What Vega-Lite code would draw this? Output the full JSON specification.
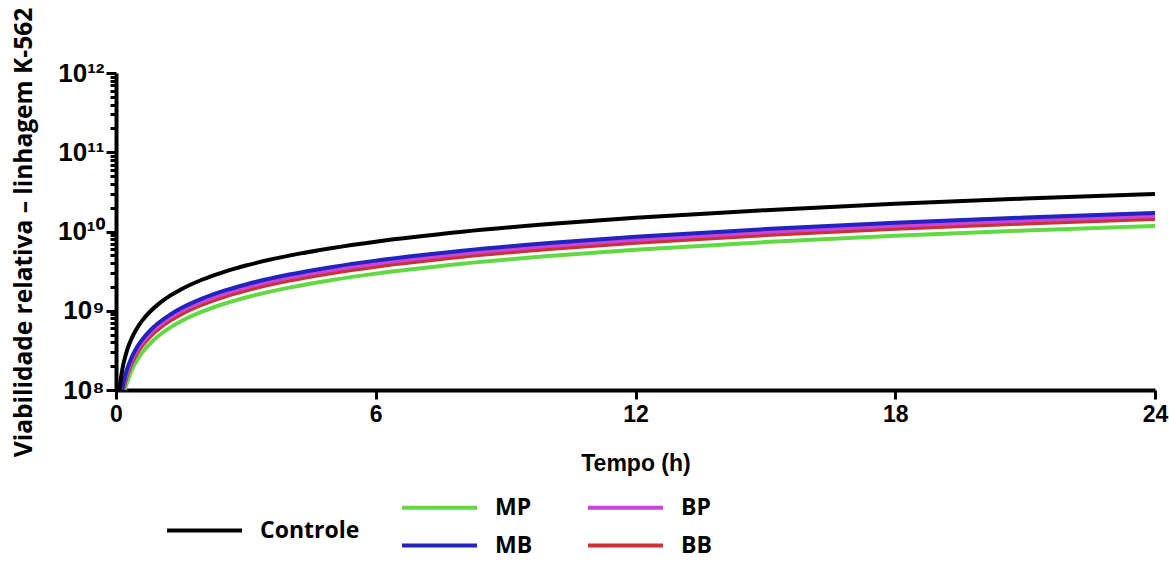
{
  "$schema": "https://vega.github.io/schema/vega-lite/v6.json",
  "width": 1039,
  "height": 317,
  "autosize": {"type": "none"},
  "padding": {"left": 116, "top": 73, "right": 14, "bottom": 171},
  "background": "white",
  "config": {
    "view": {"stroke": null},
    "axis": {
      "grid": false,
      "domainColor": "#000000",
      "domainWidth": 4,
      "tickColor": "#000000",
      "tickWidth": 3,
      "labelColor": "#000000",
      "titleColor": "#000000"
    },
    "legend": {
      "padding": 0,
      "symbolType": "M-5,0H5",
      "symbolSize": 225,
      "symbolStrokeWidth": 4,
      "labelFont": "Open Sans",
      "labelFontSize": 23,
      "labelFontWeight": "bold",
      "labelColor": "#000000",
      "labelOffset": 44,
      "title": null
    }
  },
  "datasets": {
    "curvas": [
      {"t": 0.204, "s": "MP", "v": 1.0e8}, {"t": 0.25, "s": "MP", "v": 1.225e8}, {"t": 0.3, "s": "MP", "v": 1.47e8}, {"t": 0.4, "s": "MP", "v": 1.96e8}, {"t": 0.5, "s": "MP", "v": 2.45e8}, {"t": 0.6, "s": "MP", "v": 2.94e8}, {"t": 0.8, "s": "MP", "v": 3.92e8}, {"t": 1, "s": "MP", "v": 4.9e8}, {"t": 1.25, "s": "MP", "v": 6.125e8}, {"t": 1.5, "s": "MP", "v": 7.35e8}, {"t": 2, "s": "MP", "v": 9.8e8}, {"t": 2.5, "s": "MP", "v": 1.225e9}, {"t": 3, "s": "MP", "v": 1.47e9}, {"t": 4, "s": "MP", "v": 1.96e9}, {"t": 5, "s": "MP", "v": 2.45e9}, {"t": 6, "s": "MP", "v": 2.94e9}, {"t": 8, "s": "MP", "v": 3.92e9}, {"t": 10, "s": "MP", "v": 4.9e9}, {"t": 12, "s": "MP", "v": 5.88e9}, {"t": 15, "s": "MP", "v": 7.35e9}, {"t": 18, "s": "MP", "v": 8.82e9}, {"t": 21, "s": "MP", "v": 1.029e10}, {"t": 24, "s": "MP", "v": 1.176e10},

      {"t": 0.167, "s": "BB", "v": 1.0e8}, {"t": 0.2, "s": "BB", "v": 1.2e8}, {"t": 0.25, "s": "BB", "v": 1.5e8}, {"t": 0.3, "s": "BB", "v": 1.8e8}, {"t": 0.4, "s": "BB", "v": 2.4e8}, {"t": 0.5, "s": "BB", "v": 3.0e8}, {"t": 0.6, "s": "BB", "v": 3.6e8}, {"t": 0.8, "s": "BB", "v": 4.8e8}, {"t": 1, "s": "BB", "v": 6.0e8}, {"t": 1.25, "s": "BB", "v": 7.5e8}, {"t": 1.5, "s": "BB", "v": 9.0e8}, {"t": 2, "s": "BB", "v": 1.2e9}, {"t": 2.5, "s": "BB", "v": 1.5e9}, {"t": 3, "s": "BB", "v": 1.8e9}, {"t": 4, "s": "BB", "v": 2.4e9}, {"t": 5, "s": "BB", "v": 3.0e9}, {"t": 6, "s": "BB", "v": 3.6e9}, {"t": 8, "s": "BB", "v": 4.8e9}, {"t": 10, "s": "BB", "v": 6.0e9}, {"t": 12, "s": "BB", "v": 7.2e9}, {"t": 15, "s": "BB", "v": 9.0e9}, {"t": 18, "s": "BB", "v": 1.08e10}, {"t": 21, "s": "BB", "v": 1.26e10}, {"t": 24, "s": "BB", "v": 1.44e10},

      {"t": 0.153, "s": "BP", "v": 1.0e8}, {"t": 0.2, "s": "BP", "v": 1.31e8}, {"t": 0.25, "s": "BP", "v": 1.6375e8}, {"t": 0.3, "s": "BP", "v": 1.965e8}, {"t": 0.4, "s": "BP", "v": 2.62e8}, {"t": 0.5, "s": "BP", "v": 3.275e8}, {"t": 0.6, "s": "BP", "v": 3.93e8}, {"t": 0.8, "s": "BP", "v": 5.24e8}, {"t": 1, "s": "BP", "v": 6.55e8}, {"t": 1.25, "s": "BP", "v": 8.19e8}, {"t": 1.5, "s": "BP", "v": 9.825e8}, {"t": 2, "s": "BP", "v": 1.31e9}, {"t": 2.5, "s": "BP", "v": 1.6375e9}, {"t": 3, "s": "BP", "v": 1.965e9}, {"t": 4, "s": "BP", "v": 2.62e9}, {"t": 5, "s": "BP", "v": 3.275e9}, {"t": 6, "s": "BP", "v": 3.93e9}, {"t": 8, "s": "BP", "v": 5.24e9}, {"t": 10, "s": "BP", "v": 6.55e9}, {"t": 12, "s": "BP", "v": 7.86e9}, {"t": 15, "s": "BP", "v": 9.825e9}, {"t": 18, "s": "BP", "v": 1.179e10}, {"t": 21, "s": "BP", "v": 1.3755e10}, {"t": 24, "s": "BP", "v": 1.572e10},

      {"t": 0.14, "s": "MB", "v": 1.0e8}, {"t": 0.15, "s": "MB", "v": 1.07e8}, {"t": 0.2, "s": "MB", "v": 1.43e8}, {"t": 0.25, "s": "MB", "v": 1.79e8}, {"t": 0.3, "s": "MB", "v": 2.145e8}, {"t": 0.4, "s": "MB", "v": 2.86e8}, {"t": 0.5, "s": "MB", "v": 3.575e8}, {"t": 0.6, "s": "MB", "v": 4.29e8}, {"t": 0.8, "s": "MB", "v": 5.72e8}, {"t": 1, "s": "MB", "v": 7.15e8}, {"t": 1.25, "s": "MB", "v": 8.94e8}, {"t": 1.5, "s": "MB", "v": 1.0725e9}, {"t": 2, "s": "MB", "v": 1.43e9}, {"t": 2.5, "s": "MB", "v": 1.79e9}, {"t": 3, "s": "MB", "v": 2.145e9}, {"t": 4, "s": "MB", "v": 2.86e9}, {"t": 5, "s": "MB", "v": 3.575e9}, {"t": 6, "s": "MB", "v": 4.29e9}, {"t": 8, "s": "MB", "v": 5.72e9}, {"t": 10, "s": "MB", "v": 7.15e9}, {"t": 12, "s": "MB", "v": 8.58e9}, {"t": 15, "s": "MB", "v": 1.0725e10}, {"t": 18, "s": "MB", "v": 1.287e10}, {"t": 21, "s": "MB", "v": 1.5015e10}, {"t": 24, "s": "MB", "v": 1.716e10},

      {"t": 0.081, "s": "Controle", "v": 1.0e8}, {"t": 0.1, "s": "Controle", "v": 1.24e8}, {"t": 0.15, "s": "Controle", "v": 1.86e8}, {"t": 0.2, "s": "Controle", "v": 2.48e8}, {"t": 0.25, "s": "Controle", "v": 3.1e8}, {"t": 0.3, "s": "Controle", "v": 3.72e8}, {"t": 0.4, "s": "Controle", "v": 4.96e8}, {"t": 0.5, "s": "Controle", "v": 6.2e8}, {"t": 0.6, "s": "Controle", "v": 7.44e8}, {"t": 0.8, "s": "Controle", "v": 9.92e8}, {"t": 1, "s": "Controle", "v": 1.24e9}, {"t": 1.25, "s": "Controle", "v": 1.55e9}, {"t": 1.5, "s": "Controle", "v": 1.86e9}, {"t": 2, "s": "Controle", "v": 2.48e9}, {"t": 2.5, "s": "Controle", "v": 3.1e9}, {"t": 3, "s": "Controle", "v": 3.72e9}, {"t": 4, "s": "Controle", "v": 4.96e9}, {"t": 5, "s": "Controle", "v": 6.2e9}, {"t": 6, "s": "Controle", "v": 7.44e9}, {"t": 8, "s": "Controle", "v": 9.92e9}, {"t": 10, "s": "Controle", "v": 1.24e10}, {"t": 12, "s": "Controle", "v": 1.488e10}, {"t": 15, "s": "Controle", "v": 1.86e10}, {"t": 18, "s": "Controle", "v": 2.232e10}, {"t": 21, "s": "Controle", "v": 2.604e10}, {"t": 24, "s": "Controle", "v": 2.976e10}
    ]
  },
  "data": {"name": "curvas"},
  "encoding": {
    "x": {
      "field": "t",
      "type": "quantitative",
      "scale": {"domain": [0, 24], "nice": false, "zero": false},
      "axis": {
        "values": [0, 6, 12, 18, 24],
        "title": "Tempo (h)",
        "tickSize": 9,
        "labelFlush": false,
        "labelFont": "Liberation Sans",
        "labelFontSize": 23,
        "labelFontWeight": "bold",
        "labelPadding": 4,
        "titleFont": "Liberation Sans",
        "titleFontSize": 23,
        "titleFontWeight": "bold",
        "titlePadding": 26
      }
    },
    "y": {
      "field": "v",
      "type": "quantitative",
      "scale": {"type": "log", "domain": [1e8, 1e12], "nice": false},
      "axis": {
        "values": [1e8, 2e8, 3e8, 4e8, 5e8, 6e8, 7e8, 8e8, 9e8, 1e9, 2e9, 3e9, 4e9, 5e9, 6e9, 7e9, 8e9, 9e9, 1e10, 2e10, 3e10, 4e10, 5e10, 6e10, 7e10, 8e10, 9e10, 1e11, 2e11, 3e11, 4e11, 5e11, 6e11, 7e11, 8e11, 9e11, 1e12],
        "labelExpr": "abs(log(datum.value)/LN10 - round(log(datum.value)/LN10)) > 0.001 ? '' : ['10⁸','10⁹','10¹⁰','10¹¹','10¹²'][round(log(datum.value)/LN10) - 8]",
        "labelOverlap": false,
        "labelFont": "Liberation Sans",
        "labelFontSize": 26,
        "labelFontWeight": "bold",
        "labelPadding": 2,
        "tickSize": {"condition": {"test": "abs(log(datum.value)/LN10 - round(log(datum.value)/LN10)) < 0.001", "value": 10}, "value": 6},
        "title": "Viabilidade relativa – linhagem K-562",
        "titleFont": "Open Sans",
        "titleFontSize": 24.5,
        "titleFontWeight": "bold",
        "titleAngle": -90,
        "titleAlign": "center",
        "titleBaseline": "middle",
        "titleX": -92,
        "titleY": 159
      }
    }
  },
  "layer": [
    {
      "transform": [{"filter": "datum.s !== 'Controle'"}],
      "mark": {"type": "line", "strokeWidth": 4, "interpolate": "monotone", "clip": true},
      "encoding": {
        "color": {
          "field": "s",
          "type": "nominal",
          "scale": {"domain": ["MP", "MB", "BP", "BB"], "range": ["#62d943", "#2323c0", "#c845d8", "#cc3030"]},
          "legend": {"orient": "none", "legendX": 312, "legendY": 423, "columns": 2, "columnPadding": 47, "rowPadding": 14}
        }
      }
    },
    {
      "transform": [{"filter": "datum.s === 'Controle'"}],
      "mark": {"type": "line", "strokeWidth": 4, "interpolate": "monotone", "clip": true},
      "encoding": {
        "color": {
          "field": "s",
          "type": "nominal",
          "scale": {"domain": ["Controle"], "range": ["#000000"]},
          "legend": {"orient": "none", "legendX": 77, "legendY": 446}
        }
      }
    }
  ],
  "resolve": {"scale": {"color": "independent"}}
}
